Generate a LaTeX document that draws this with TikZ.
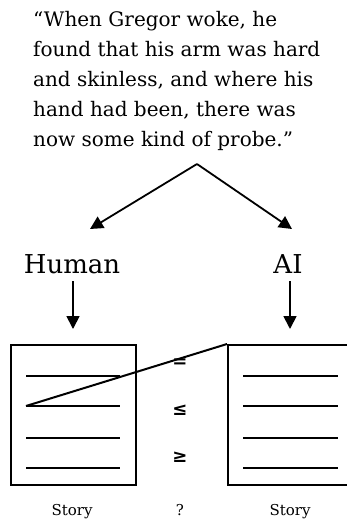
\documentclass[tikz,border=0pt]{standalone}
\usepackage{fontspec}
\setmainfont{DejaVu Serif}
\newfontfamily\symfont{DejaVu Sans}
\usetikzlibrary{arrows.meta}
\begin{document}
\begin{tikzpicture}[x=1pt,y=-1pt,
  tip/.style={-{Triangle[length=13pt,width=13pt]}, line width=1.8pt},
  frame/.style={draw, line width=2pt},
  rule/.style={line width=1.6pt},
  quote/.style={font=\fontsize{20}{30}\selectfont, align=left, inner sep=0pt, anchor=north west},
  who/.style={font=\fontsize{26}{30}\selectfont, inner sep=0pt, anchor=base},
  small/.style={font=\fontsize{15}{16}\selectfont, inner sep=0pt, anchor=base},
  rel/.style={font=\symfont\bfseries\fontsize{18}{20}\selectfont, inner sep=0pt}]
\useasboundingbox[fill=white] (0,0) rectangle (346,520);

% quotation
\node[quote] (q) at (33,11) {“When Gregor woke, he\\found that his arm was hard\\and skinless, and where his\\hand had been, there was\\now some kind of probe.”};

% split arrows
\coordinate (apex) at (197,164);
\coordinate (lt) at (90,229);
\coordinate (rt) at (292,229);
\draw[tip] (apex) -- (lt);
\draw[tip] (apex) -- (rt);

% the two authors
\node[who] (human) at (72,273) {Human};
\node[who] (ai) at (288,273) {AI};
\coordinate (hs) at (73,281);
\coordinate (he) at (73,329);
\coordinate (as) at (290,281);
\coordinate (ae) at (290,329);
\draw[tip] (hs) -- (he);
\draw[tip] (as) -- (ae);

% story pages
\node[frame, minimum width=125pt, minimum height=140pt, inner sep=0pt, anchor=north west] (lbox) at (10,344) {};
\node[frame, minimum width=125pt, minimum height=140pt, inner sep=0pt, anchor=north west] (rbox) at (227,344) {};
\foreach \yy in {376,406,438,468}{
  \draw[rule] (26,\yy) -- (120,\yy);
  \draw[rule] (243,\yy) -- (338,\yy);
}
\coordinate (lline) at (26,406);
\draw[line width=2pt] (lline) -- (rbox.north west);

% comparison marks
\node[rel] (eq) at (180,363) {=};
\node[rel] (le) at (180,410) {≤};
\node[rel] (ge) at (180,457) {≥};
\node[small] (qm) at (180,515) {?};
\node[small] (ls) at (72,515) {Story};
\node[small] (rs) at (290,515) {Story};
\end{tikzpicture}
\end{document}
